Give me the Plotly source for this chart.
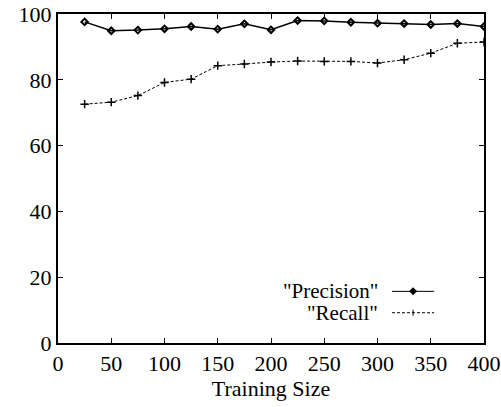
import plotly.graph_objects as go

training_size = [25, 50, 75, 100, 125, 150, 175, 200, 225, 250, 275, 300, 325, 350, 375, 400]
precision = [97.6, 94.9, 95.1, 95.5, 96.2, 95.4, 97.0, 95.2, 98.0, 97.9, 97.5, 97.2, 97.1, 96.8, 97.1, 96.2]
recall = [72.6, 73.2, 75.2, 79.2, 80.2, 84.3, 84.8, 85.4, 85.7, 85.6, 85.6, 85.1, 86.1, 88.1, 91.1, 91.5]
x_ticks = [0, 50, 100, 150, 200, 250, 300, 350, 400]
y_ticks = [0, 20, 40, 60, 80, 100]
series_names = ['"Precision"', '"Recall"']

FONT = "Liberation Serif"

fig = go.Figure()
fig.add_trace(go.Scatter(
    x=training_size, y=precision, mode="lines+markers", name=series_names[0],
    line=dict(color="black", width=1.5),
    marker=dict(symbol="diamond-open", size=5, color="black", line=dict(width=2, color="black")),
    showlegend=False,
))
fig.add_trace(go.Scatter(
    x=training_size, y=recall, mode="lines+markers", name=series_names[1],
    line=dict(color="black", width=1, dash="3px,2px"),
    marker=dict(symbol="cross-thin", size=6, line=dict(width=1.5, color="black")),
    showlegend=False,
))

# Custom legend (text left of sample, as in the reference)
leg_y = [0.157, 0.092]
for name, yy in zip(series_names, leg_y):
    fig.add_annotation(xref="paper", yref="paper", x=0.755, y=yy, text=name,
                       showarrow=False, xanchor="right", yanchor="middle",
                       font=dict(family=FONT, size=21, color="black"))
fig.add_shape(type="line", xref="paper", yref="paper", x0=0.784, x1=0.883, y0=leg_y[0], y1=leg_y[0],
              line=dict(color="black", width=1))
fig.add_shape(type="line", xref="paper", yref="paper", x0=0.784, x1=0.883, y0=leg_y[1], y1=leg_y[1],
              line=dict(color="black", width=1, dash="3px,2px"))
# sample markers
cx = 0.8335
fig.add_shape(type="path", xref="paper", yref="paper",
              path=f"M {cx-0.007} {leg_y[0]} L {cx} {leg_y[0]+0.009} L {cx+0.007} {leg_y[0]} L {cx} {leg_y[0]-0.009} Z",
              line=dict(color="black", width=1.5), fillcolor="black")
fig.add_shape(type="line", xref="paper", yref="paper", x0=cx, x1=cx, y0=leg_y[1]-0.009, y1=leg_y[1]+0.009,
              line=dict(color="black", width=1))

axis_common = dict(
    showgrid=False, zeroline=False, showline=True, linecolor="black", linewidth=2,
    mirror="allticks", ticks="inside", ticklen=5, tickwidth=1, tickcolor="black",
    tickfont=dict(family=FONT, size=22, color="black"), automargin=False,
)
fig.update_xaxes(range=[0, 400], tickvals=x_ticks, ticktext=[str(v) for v in x_ticks],
                 title=dict(text="Training Size", font=dict(family=FONT, size=22, color="black"), standoff=0),
                 **axis_common)
fig.update_yaxes(range=[0, 100], tickvals=y_ticks, ticktext=[str(v) for v in y_ticks], **axis_common)

fig.update_layout(
    width=501, height=407,
    margin=dict(l=58, r=17, t=14, b=64),
    paper_bgcolor="white", plot_bgcolor="white",
    font=dict(family=FONT, color="black"),
)
fig.write_html("out.html", config={"displayModeBar": False},
               post_script="document.body.style.margin='0';document.body.style.overflow='hidden';")
